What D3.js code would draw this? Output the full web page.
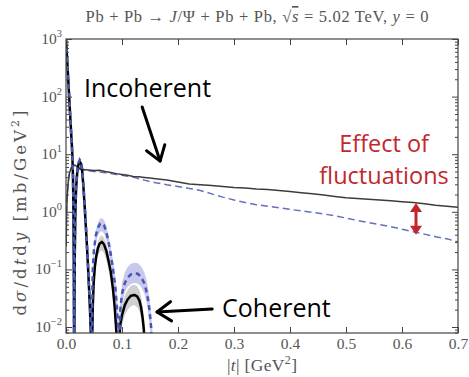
<!DOCTYPE html>
<html>
<head>
<meta charset="utf-8">
<script src="https://cdn.jsdelivr.net/npm/d3@7"></script>
<style>
  body { margin: 0; background: #fff; }
  svg { display: block; }
</style>
</head>
<body>
<svg id="chart" width="469" height="377"></svg>
<script>
'use strict';

// ---- data ----
var xTicks = [0, 0.1, 0.2, 0.3, 0.4, 0.5, 0.6, 0.7];
var yTickExps = [-2, -1, 0, 1, 2, 3];

// incoherent cross section, with and without fluctuations
var incT = [0.0003, 0.001, 0.002, 0.004, 0.006, 0.009, 0.012, 0.016, 0.02, 0.025, 0.03, 0.04, 0.05, 0.06, 0.07, 0.08, 0.09, 0.10, 0.11, 0.12, 0.13, 0.14, 0.15, 0.16, 0.18, 0.20, 0.22, 0.24, 0.26, 0.28, 0.30, 0.32, 0.34, 0.36, 0.38, 0.40, 0.42, 0.44, 0.46, 0.48, 0.50, 0.52, 0.54, 0.56, 0.58, 0.60, 0.62, 0.64, 0.66, 0.68, 0.70];
var incNoFluct = [0.25, 0.9, 1.8, 3.3, 4.6, 5.7, 6.3, 6.4, 6.1, 5.6, 5.4, 5.3, 5.2, 5.25, 5.0, 4.8, 4.6, 4.45, 4.3, 4.1, 4.05, 3.95, 3.85, 3.75, 3.55, 3.3, 3.05, 2.95, 2.85, 2.75, 2.65, 2.6, 2.5, 2.45, 2.35, 2.25, 2.15, 2.05, 1.95, 1.85, 1.75, 1.7, 1.65, 1.6, 1.55, 1.5, 1.45, 1.38, 1.3, 1.25, 1.2];
var incFluct = [0.25, 0.9, 1.8, 3.3, 4.6, 5.7, 6.3, 6.4, 6.0, 5.5, 5.3, 5.15, 5.0, 4.9, 4.75, 4.6, 4.45, 4.3, 4.15, 4.0, 3.75, 3.55, 3.35, 3.2, 2.95, 2.75, 2.55, 2.35, 2.05, 1.8, 1.6, 1.45, 1.33, 1.25, 1.18, 1.1, 1.04, 0.98, 0.92, 0.85, 0.78, 0.71, 0.65, 0.6, 0.55, 0.5, 0.45, 0.41, 0.37, 0.34, 0.30];

// coherent, no fluctuations (black)
var cohT = [0, 0.002, 0.004, 0.006, 0.008, 0.010, 0.0113, 0.0125, 0.0133, 0.0139, 0.0143, 0.0146,
  0.0150, 0.0156, 0.0165, 0.018, 0.020, 0.022, 0.0245, 0.027, 0.029, 0.031, 0.033, 0.035, 0.037, 0.039, 0.041, 0.043, 0.045, 0.0465,
  0.047, 0.048, 0.0495, 0.0515, 0.054, 0.057, 0.060, 0.064, 0.068, 0.072, 0.076, 0.080, 0.084, 0.087, 0.090, 0.092, 0.093,
  0.095, 0.097, 0.100, 0.105, 0.110, 0.116, 0.122, 0.127, 0.131, 0.134, 0.137, 0.139, 0.141, 0.143];
var cohNoFluct = [1000, 446, 197, 87, 38, 17, 10, 4, 1, 0.15, 0.012, 0.001,
  0.01, 0.15, 0.8, 2.5, 4.8, 6.5, 7.4, 6.8, 5.0, 2.8, 1.4, 0.65, 0.3, 0.13, 0.05, 0.018, 0.005, 0.001,
  0.008, 0.025, 0.06, 0.11, 0.17, 0.235, 0.28, 0.30, 0.27, 0.21, 0.14, 0.09, 0.045, 0.022, 0.008, 0.002, 0.0005,
  0.006, 0.011, 0.016, 0.024, 0.030, 0.035, 0.036, 0.034, 0.029, 0.022, 0.014, 0.009, 0.004, 0.001];

// coherent, with fluctuations (blue dashed)
var cohFlT = [0, 0.002, 0.004, 0.006, 0.008, 0.010, 0.0113, 0.0125, 0.0133, 0.0139, 0.0143, 0.0146,
  0.0150, 0.0156, 0.0165, 0.018, 0.020, 0.022, 0.0245, 0.027, 0.029, 0.031, 0.033, 0.035, 0.037, 0.039, 0.041, 0.043, 0.045, 0.0465,
  0.0466, 0.0472, 0.048, 0.050, 0.053, 0.057, 0.061, 0.064, 0.068, 0.072, 0.076, 0.080, 0.084, 0.088, 0.091, 0.0935, 0.0945,
  0.0955, 0.097, 0.100, 0.105, 0.110, 0.116, 0.122, 0.128, 0.134, 0.140, 0.145, 0.149, 0.152, 0.155, 0.157];
var cohFluct = [1000, 446, 197, 87, 38, 17, 10, 4, 1, 0.15, 0.012, 0.001,
  0.01, 0.16, 0.85, 2.7, 5.2, 7.0, 8.0, 7.3, 5.4, 3.0, 1.5, 0.7, 0.32, 0.14, 0.055, 0.02, 0.006, 0.001,
  0.01, 0.05, 0.11, 0.22, 0.38, 0.53, 0.62, 0.64, 0.58, 0.45, 0.30, 0.18, 0.10, 0.05, 0.022, 0.008, 0.001,
  0.008, 0.02, 0.038, 0.058, 0.072, 0.082, 0.086, 0.084, 0.074, 0.057, 0.037, 0.020, 0.010, 0.003, 0.001];

// uncertainty bands
var grayT = [0.0462, 0.047, 0.048, 0.0495, 0.0515, 0.054, 0.057, 0.060, 0.064, 0.068, 0.072, 0.076, 0.080, 0.084, 0.087, 0.090, 0.092, 0.0935, 0.095, 0.097, 0.100, 0.105, 0.110, 0.116, 0.122, 0.127, 0.131, 0.134, 0.137, 0.139, 0.141, 0.144];
var grayLo = [0.0005, 0.004, 0.015, 0.04, 0.08, 0.125, 0.17, 0.20, 0.215, 0.19, 0.145, 0.095, 0.06, 0.028, 0.013, 0.004, 0.001, 0.0003, 0.003, 0.007, 0.011, 0.016, 0.02, 0.023, 0.024, 0.022, 0.019, 0.014, 0.008, 0.005, 0.002, 0.0005];
var grayHi = [0.004, 0.02, 0.045, 0.085, 0.15, 0.22, 0.30, 0.36, 0.39, 0.355, 0.28, 0.19, 0.125, 0.065, 0.035, 0.014, 0.006, 0.002, 0.011, 0.018, 0.024, 0.035, 0.044, 0.052, 0.054, 0.051, 0.044, 0.034, 0.023, 0.016, 0.009, 0.003];
var blueT = [0.0458, 0.0466, 0.0472, 0.048, 0.050, 0.053, 0.057, 0.061, 0.064, 0.068, 0.072, 0.076, 0.080, 0.084, 0.088, 0.091, 0.0935, 0.0945, 0.0955, 0.097, 0.100, 0.105, 0.110, 0.116, 0.122, 0.128, 0.134, 0.140, 0.145, 0.149, 0.152, 0.155, 0.158];
var blueLo = [0.0005, 0.006, 0.035, 0.08, 0.16, 0.28, 0.38, 0.45, 0.46, 0.42, 0.32, 0.21, 0.12, 0.065, 0.03, 0.012, 0.004, 0.0008, 0.004, 0.012, 0.025, 0.04, 0.05, 0.056, 0.058, 0.057, 0.05, 0.038, 0.024, 0.012, 0.005, 0.0015, 0.0003];
var blueHi = [0.005, 0.02, 0.075, 0.15, 0.28, 0.47, 0.65, 0.76, 0.78, 0.71, 0.56, 0.38, 0.24, 0.14, 0.075, 0.036, 0.015, 0.005, 0.015, 0.03, 0.058, 0.088, 0.11, 0.125, 0.13, 0.128, 0.113, 0.088, 0.058, 0.033, 0.018, 0.007, 0.002];

// ---- layout ----
var plot = { left: 66, right: 458, top: 39, bottom: 333 };
var axisColor = '#444';
var textColor = '#555';
var serif = "'Liberation Serif', 'DejaVu Serif', serif";
var sans = "'Open Sans', 'Noto Sans', sans-serif";

var svg = d3.select('#chart');

var x = d3.scaleLinear().domain([0, 0.7]).range([plot.left, plot.right]);
var y = d3.scaleLog().domain([Math.pow(10, -2.104), 1000]).range([plot.bottom, plot.top]);

svg.append('defs').append('clipPath').attr('id', 'clip')
  .append('rect')
  .attr('x', plot.left).attr('y', plot.top)
  .attr('width', plot.right - plot.left).attr('height', plot.bottom - plot.top);

var g = svg.append('g').attr('clip-path', 'url(#clip)');

var line = d3.line().x(function (d) { return x(d[0]); }).y(function (d) { return y(d[1]); });
var area = d3.area()
  .x(function (d) { return x(d[0]); })
  .y0(function (d) { return y(d[1]); })
  .y1(function (d) { return y(d[2]); });

// bands
g.append('path').attr('d', area(d3.zip(blueT, blueLo, blueHi))).attr('fill', '#c8c8ec');
g.append('path').attr('d', area(d3.zip(grayT, grayLo, grayHi))).attr('fill', '#cfcfcf');

// incoherent
g.append('path').attr('d', line(d3.zip(incT, incFluct)))
  .attr('fill', 'none').attr('stroke', '#6470bc').attr('stroke-width', 1.5).attr('stroke-dasharray', '7,4');
g.append('path').attr('d', line(d3.zip(incT, incNoFluct)))
  .attr('fill', 'none').attr('stroke', '#3c3c3c').attr('stroke-width', 1.5);

// coherent
g.append('path').attr('d', line(d3.zip(cohT, cohNoFluct)))
  .attr('fill', 'none').attr('stroke', '#000').attr('stroke-width', 2.5).attr('stroke-linejoin', 'round');
g.append('path').attr('d', line(d3.zip(cohFlT, cohFluct)))
  .attr('fill', 'none').attr('stroke', '#4656b4').attr('stroke-width', 2.5).attr('stroke-dasharray', '5,4');

// ---- axes ----
function styleAxis(sel) {
  sel.select('.domain').remove();
  sel.selectAll('line').attr('stroke', axisColor).attr('stroke-width', 1);
  sel.selectAll('text').attr('fill', textColor).style('font-family', serif).style('font-size', '15.5px');
}

var yMinor = [];
for (var e = -3; e < 3; e++) {
  for (var m = 2; m <= 9; m++) {
    var v = m * Math.pow(10, e);
    if (v >= y.domain()[0]) yMinor.push(v);
  }
}
var yMajor = yTickExps.map(function (p) { return Math.pow(10, p); });

svg.append('g').attr('transform', 'translate(0,' + plot.bottom + ')')
  .call(d3.axisBottom(x).tickValues(xTicks).tickFormat(d3.format('.1f')).tickSizeInner(-6).tickSizeOuter(0).tickPadding(5))
  .call(styleAxis);
svg.append('g').attr('transform', 'translate(0,' + plot.top + ')')
  .call(d3.axisTop(x).tickValues(xTicks).tickFormat('').tickSizeInner(-6).tickSizeOuter(0))
  .call(styleAxis);
[[d3.axisLeft, plot.left], [d3.axisRight, plot.right]].forEach(function (a) {
  svg.append('g').attr('transform', 'translate(' + a[1] + ',0)')
    .call(a[0](y).tickValues(yMajor).tickFormat('').tickSizeInner(-6).tickSizeOuter(0))
    .call(styleAxis);
  svg.append('g').attr('transform', 'translate(' + a[1] + ',0)')
    .call(a[0](y).tickValues(yMinor).tickFormat('').tickSizeInner(-3).tickSizeOuter(0))
    .call(styleAxis);
});

svg.append('rect')
  .attr('x', plot.left).attr('y', plot.top)
  .attr('width', plot.right - plot.left).attr('height', plot.bottom - plot.top)
  .attr('fill', 'none').attr('stroke', axisColor).attr('stroke-width', 1.2);

// y tick labels 10^n
yTickExps.forEach(function (p) {
  var t = svg.append('text')
    .attr('x', plot.left - 4).attr('y', y(Math.pow(10, p)) + 5)
    .attr('text-anchor', 'end').attr('fill', textColor)
    .style('font-family', serif).style('font-size', '15.5px');
  t.append('tspan').text('10');
  t.append('tspan').attr('dy', -7).style('font-size', '10.5px').text(p < 0 ? '\u2212' + (-p) : String(p));
});

// title
var title = svg.append('text')
  .attr('x', 257).attr('y', 22).attr('text-anchor', 'middle').attr('fill', textColor)
  .attr('textLength', 343).attr('lengthAdjust', 'spacing')
  .style('font-family', serif).style('font-size', '16.5px');
title.append('tspan').text('Pb + Pb \u2192 ');
title.append('tspan').style('font-style', 'italic').text('J');
title.append('tspan').text('/\u03A8 + Pb + Pb, \u221A');
title.append('tspan').style('font-style', 'italic').style('text-decoration', 'overline').text('s');
title.append('tspan').text(' = 5.02 TeV, ');
title.append('tspan').style('font-style', 'italic').text('y');
title.append('tspan').text(' = 0');

// y label
var ylab = svg.append('text')
  .attr('transform', 'translate(26,213) rotate(-90)')
  .attr('text-anchor', 'middle').attr('fill', textColor)
  .attr('textLength', 205).attr('lengthAdjust', 'spacing')
  .style('font-family', "'DejaVu Serif', serif").style('font-size', '16.5px');
ylab.append('tspan').text('d');
ylab.append('tspan').style('font-style', 'italic').text('\u03C3');
ylab.append('tspan').text('/d');
ylab.append('tspan').style('font-style', 'italic').text('t');
ylab.append('tspan').text('d');
ylab.append('tspan').style('font-style', 'italic').text('y');
ylab.append('tspan').text(' [mb/GeV');
ylab.append('tspan').attr('dy', -7).style('font-size', '11px').text('2');
ylab.append('tspan').attr('dy', 7).text(']');

// x label
var xlab = svg.append('text')
  .attr('x', 262).attr('y', 371).attr('text-anchor', 'middle').attr('fill', textColor)
  .attr('textLength', 70).attr('lengthAdjust', 'spacing')
  .style('font-family', serif).style('font-size', '17.5px');
xlab.append('tspan').text('|');
xlab.append('tspan').style('font-style', 'italic').text('t');
xlab.append('tspan').text('| [GeV');
xlab.append('tspan').attr('dy', -7).style('font-size', '12px').text('2');
xlab.append('tspan').attr('dy', 7).text(']');

// ---- annotations (positioned in data coordinates) ----
var labels = [
  { text: 'Incoherent', t: 0.032, v: 100, anchor: 'start', color: '#000', size: 25 },
  { text: 'Coherent', t: 0.2786, v: 0.0151, anchor: 'start', color: '#000', size: 25 },
  { text: 'Effect of', t: 0.568, v: 10.9, anchor: 'middle', color: '#c1272d', size: 23.5 },
  { text: 'fluctuations', t: 0.568, v: 3.0, anchor: 'middle', color: '#c1272d', size: 23.5 }
];
labels.forEach(function (d) {
  svg.append('text')
    .attr('x', x(d.t)).attr('y', y(d.v))
    .attr('text-anchor', d.anchor).attr('fill', d.color)
    .style('font-family', sans).style('font-size', d.size + 'px')
    .text(d.text);
});

function arrowHead(x1, y1, x2, y2, len, ang) {
  var a = Math.atan2(y1 - y2, x1 - x2);
  return [
    [x2 + len * Math.cos(a + ang), y2 + len * Math.sin(a + ang)],
    [x2, y2],
    [x2 + len * Math.cos(a - ang), y2 + len * Math.sin(a - ang)]
  ];
}

var blackArrows = [
  { t0: 0.136, v0: 65.9, t1: 0.168, v1: 7.6 },
  { t0: 0.261, v0: 0.0205, t1: 0.1625, v1: 0.0182 }
];
blackArrows.forEach(function (d) {
  var x1 = x(d.t0), y1 = y(d.v0), x2 = x(d.t1), y2 = y(d.v1);
  svg.append('line').attr('x1', x1).attr('y1', y1).attr('x2', x2).attr('y2', y2)
    .attr('stroke', '#000').attr('stroke-width', 3).attr('stroke-linecap', 'round');
  svg.append('path').attr('d', d3.line()(arrowHead(x1, y1, x2, y2, 17, 0.6)))
    .attr('fill', 'none').attr('stroke', '#000').attr('stroke-width', 3)
    .attr('stroke-linecap', 'round').attr('stroke-linejoin', 'round');
});

// red double arrow between the incoherent curves
var fl = { t: 0.625, top: 1.42, bottom: 0.40 };
var fx = x(fl.t), fy1 = y(fl.top), fy2 = y(fl.bottom);
svg.append('line').attr('x1', fx).attr('y1', fy1 + 6).attr('x2', fx).attr('y2', fy2 - 6)
  .attr('stroke', '#c1272d').attr('stroke-width', 3);
svg.append('path').attr('d', d3.line()([[fx - 6, fy1 + 9], [fx, fy1], [fx + 6, fy1 + 9]]) + 'Z').attr('fill', '#c1272d');
svg.append('path').attr('d', d3.line()([[fx - 6, fy2 - 9], [fx, fy2], [fx + 6, fy2 - 9]]) + 'Z').attr('fill', '#c1272d');
</script>
</body>
</html>
